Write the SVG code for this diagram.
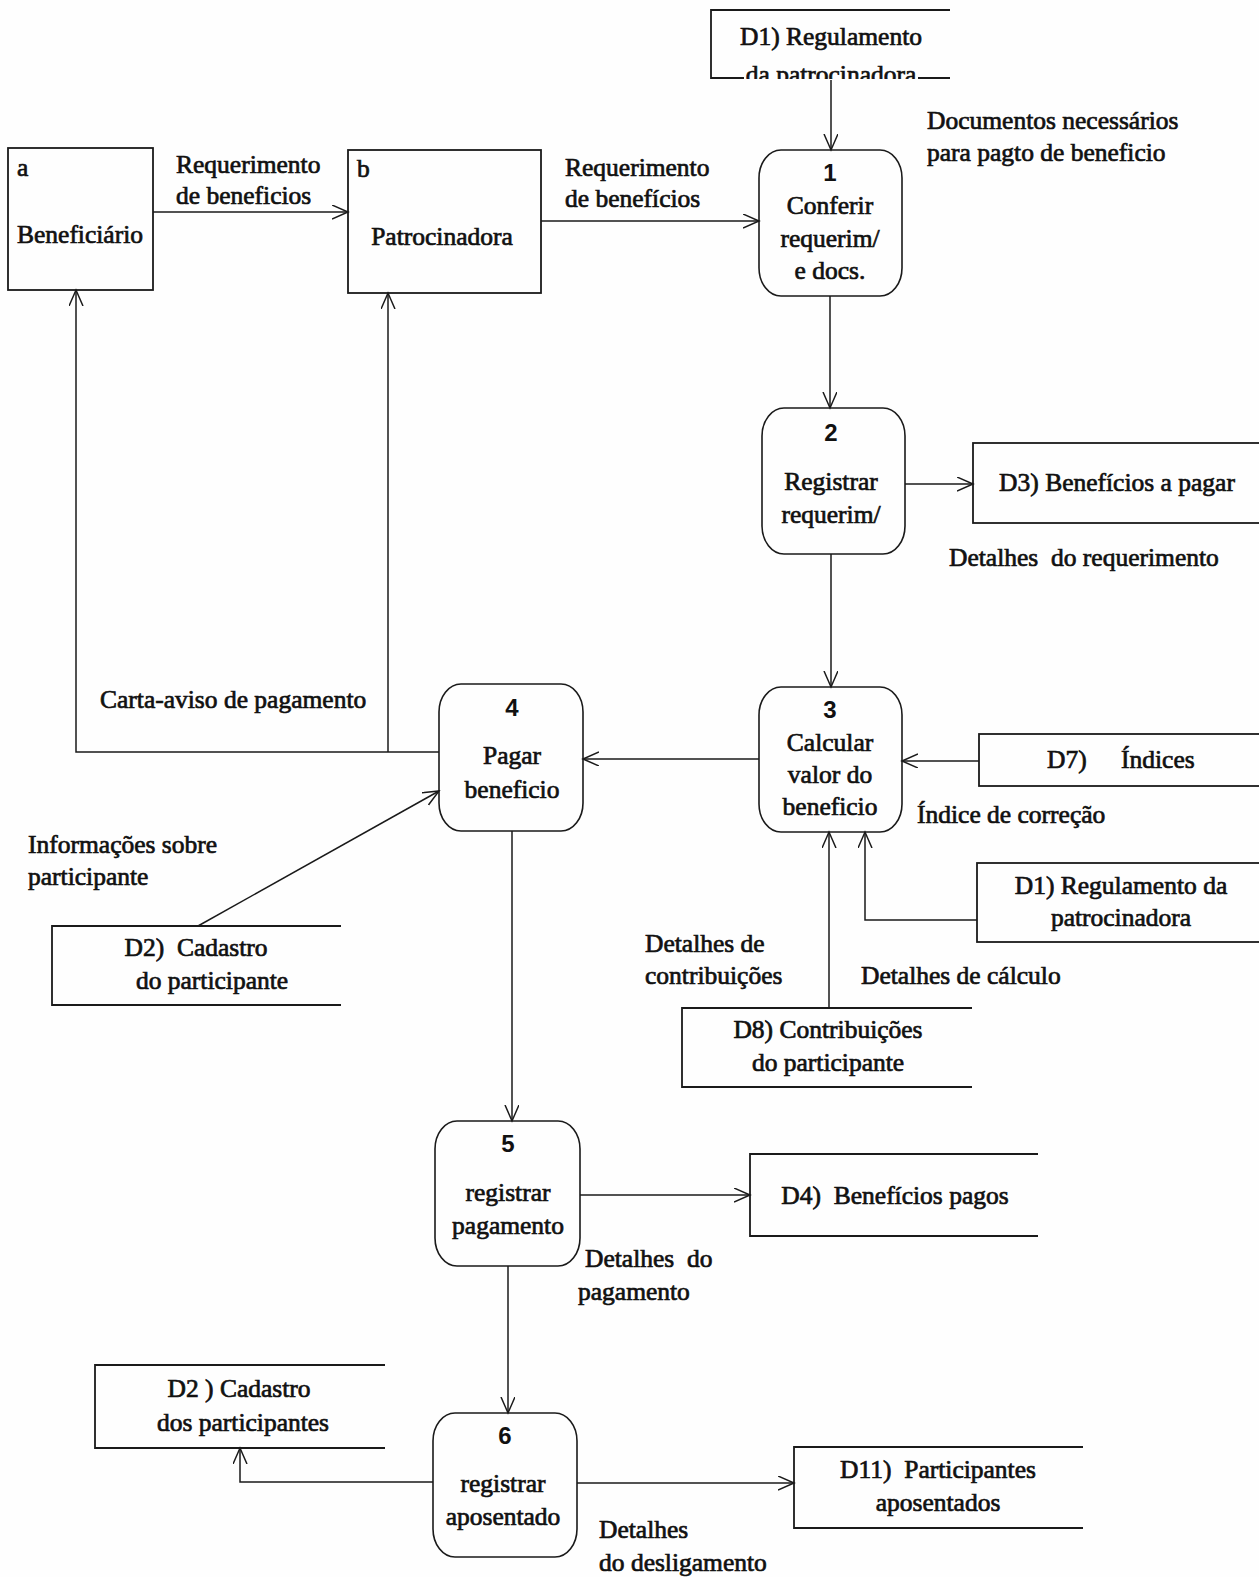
<svg xmlns="http://www.w3.org/2000/svg" width="1259" height="1577" viewBox="0 0 1259 1577">
  <style>
    .t { font-family: "Liberation Serif", "Times New Roman", serif; font-size: 25.5px; fill: #111; stroke: #111; stroke-width: 0.7; white-space: pre; }
    .c { text-anchor: middle; }
    .n { font-family: "Liberation Sans", Arial, sans-serif; font-size: 24px; font-weight: bold; fill: #111; text-anchor: middle; }
    .box { fill: none; stroke: #1a1a1a; stroke-width: 1.8; }
    .proc { fill: none; stroke: #1a1a1a; stroke-width: 1.6; }
    .flow { fill: none; stroke: #1a1a1a; stroke-width: 1.5; }
    .arr { marker-end: url(#head); }
  </style>
  <defs>
    <marker id="head" markerUnits="userSpaceOnUse" markerWidth="18" markerHeight="16" refX="16" refY="7" orient="auto">
      <path d="M0,0 L16,7 L0,14" fill="none" stroke="#1a1a1a" stroke-width="1.5"/>
    </marker>
    <clipPath id="cutD1">
      <rect x="700" y="0" width="260" height="79"/>
    </clipPath>
  </defs>
  <rect width="1259" height="1577" fill="#fefefe"/>

  <!-- external entities -->
  <g id="ent-a">
    <rect class="box" x="8" y="148" width="145" height="142"/>
    <text class="t" x="17" y="176">a</text>
    <text class="t c" x="80" y="243">Beneficiário</text>
  </g>
  <g id="ent-b">
    <rect class="box" x="348" y="150" width="193" height="143"/>
    <text class="t" x="357" y="177">b</text>
    <text class="t c" x="442" y="245">Patrocinadora</text>
  </g>

  <!-- processes -->
  <g id="p1">
    <rect class="proc" x="759" y="150" width="143" height="146" rx="22" ry="28"/>
    <text class="n" x="830" y="181">1</text>
    <text class="t c" x="830" y="214">Conferir</text>
    <text class="t c" x="830" y="247">requerim/</text>
    <text class="t c" x="830" y="279">e docs.</text>
  </g>
  <g id="p2">
    <rect class="proc" x="762" y="408" width="143" height="146" rx="22" ry="28"/>
    <text class="n" x="831" y="441">2</text>
    <text class="t c" x="831" y="490">Registrar</text>
    <text class="t c" x="831" y="523">requerim/</text>
  </g>
  <g id="p3">
    <rect class="proc" x="759" y="687" width="143" height="145" rx="22" ry="28"/>
    <text class="n" x="830" y="718">3</text>
    <text class="t c" x="830" y="751">Calcular</text>
    <text class="t c" x="830" y="783">valor do</text>
    <text class="t c" x="830" y="815">beneficio</text>
  </g>
  <g id="p4">
    <rect class="proc" x="439" y="684" width="144" height="147" rx="22" ry="28"/>
    <text class="n" x="512" y="716">4</text>
    <text class="t c" x="512" y="764">Pagar</text>
    <text class="t c" x="512" y="798">beneficio</text>
  </g>
  <g id="p5">
    <rect class="proc" x="435" y="1121" width="145" height="145" rx="22" ry="28"/>
    <text class="n" x="508" y="1152">5</text>
    <text class="t c" x="508" y="1201">registrar</text>
    <text class="t c" x="508" y="1234">pagamento</text>
  </g>
  <g id="p6">
    <rect class="proc" x="433" y="1413" width="144" height="144" rx="22" ry="28"/>
    <text class="n" x="505" y="1444">6</text>
    <text class="t c" x="503" y="1492">registrar</text>
    <text class="t c" x="503" y="1525">aposentado</text>
  </g>

  <!-- data stores -->
  <g id="d1-top">
    <path class="box" d="M950,10 H711 V78 H744 M918,78 H950"/>
    <text class="t c" x="831" y="45">D1) Regulamento</text>
    <text class="t c" x="831" y="83" clip-path="url(#cutD1)">da patrocinadora</text>
  </g>
  <g id="d3">
    <rect class="box" x="973" y="443" width="290" height="80"/>
    <text class="t c" x="1117" y="491">D3) Benefícios a pagar</text>
  </g>
  <g id="d7">
    <rect class="box" x="979" y="734" width="284" height="52"/>
    <text class="t" x="1047" y="768">D7)</text>
    <text class="t" x="1121" y="768">Índices</text>
  </g>
  <g id="d1-mid">
    <rect class="box" x="977" y="863" width="286" height="79"/>
    <text class="t c" x="1121" y="894">D1) Regulamento da</text>
    <text class="t c" x="1121" y="926">patrocinadora</text>
  </g>
  <g id="d8">
    <path class="box" d="M972,1008 H682 V1087 H972"/>
    <text class="t c" x="828" y="1038">D8) Contribuições</text>
    <text class="t c" x="828" y="1071">do participante</text>
  </g>
  <g id="d2-mid">
    <path class="box" d="M341,926 H52 V1005 H341"/>
    <text class="t c" x="196" y="956">D2)  Cadastro</text>
    <text class="t c" x="212" y="989">do participante</text>
  </g>
  <g id="d4">
    <path class="box" d="M1038,1154 H750 V1236 H1038"/>
    <text class="t c" x="895" y="1204">D4)  Benefícios pagos</text>
  </g>
  <g id="d2-low">
    <path class="box" d="M385,1365 H95 V1448 H385"/>
    <text class="t c" x="239" y="1397">D2 ) Cadastro</text>
    <text class="t c" x="243" y="1431">dos participantes</text>
  </g>
  <g id="d11">
    <path class="box" d="M1083,1447 H794 V1528 H1083"/>
    <text class="t c" x="938" y="1478">D11)  Participantes</text>
    <text class="t c" x="938" y="1511">aposentados</text>
  </g>

  <!-- data flows -->
  <g id="flows">
    <line class="flow arr" x1="153" y1="212" x2="348" y2="212"/>
    <line class="flow arr" x1="541" y1="221" x2="759" y2="221"/>
    <line class="flow arr" x1="831" y1="80" x2="831" y2="150"/>
    <line class="flow arr" x1="830" y1="296" x2="830" y2="408"/>
    <line class="flow arr" x1="905" y1="484" x2="973" y2="484"/>
    <line class="flow arr" x1="831" y1="554" x2="831" y2="687"/>
    <line class="flow arr" x1="979" y1="761" x2="902" y2="761"/>
    <polyline class="flow arr" points="977,920 865,920 865,832"/>
    <line class="flow arr" x1="829" y1="1008" x2="829" y2="832"/>
    <line class="flow arr" x1="759" y1="759" x2="583" y2="759"/>
    <polyline class="flow arr" points="439,752 76,752 76,290"/>
    <line class="flow arr" x1="388" y1="752" x2="388" y2="293"/>
    <line class="flow arr" x1="198" y1="926" x2="439" y2="791"/>
    <line class="flow arr" x1="512" y1="831" x2="512" y2="1121"/>
    <line class="flow arr" x1="580" y1="1195" x2="750" y2="1195"/>
    <line class="flow arr" x1="508" y1="1266" x2="508" y2="1413"/>
    <polyline class="flow arr" points="433,1482 240,1482 240,1448"/>
    <line class="flow arr" x1="577" y1="1483" x2="794" y2="1483"/>

    <!-- flow labels -->
    <text class="t" x="176" y="173">Requerimento</text>
    <text class="t" x="176" y="204">de beneficios</text>
    <text class="t" x="565" y="176">Requerimento</text>
    <text class="t" x="565" y="207">de benefícios</text>
    <text class="t" x="927" y="129">Documentos necessários</text>
    <text class="t" x="927" y="161">para pagto de beneficio</text>
    <text class="t" x="949" y="566">Detalhes  do requerimento</text>
    <text class="t" x="917" y="823">Índice de correção</text>
    <text class="t" x="645" y="952">Detalhes de</text>
    <text class="t" x="645" y="984">contribuições</text>
    <text class="t" x="861" y="984">Detalhes de cálculo</text>
    <text class="t" x="100" y="708">Carta-aviso de pagamento</text>
    <text class="t" x="28" y="853">Informações sobre</text>
    <text class="t" x="28" y="885">participante</text>
    <text class="t" x="585" y="1267">Detalhes  do</text>
    <text class="t" x="578" y="1300">pagamento</text>
    <text class="t" x="599" y="1538">Detalhes</text>
    <text class="t" x="599" y="1571">do desligamento</text>
  </g>
</svg>
